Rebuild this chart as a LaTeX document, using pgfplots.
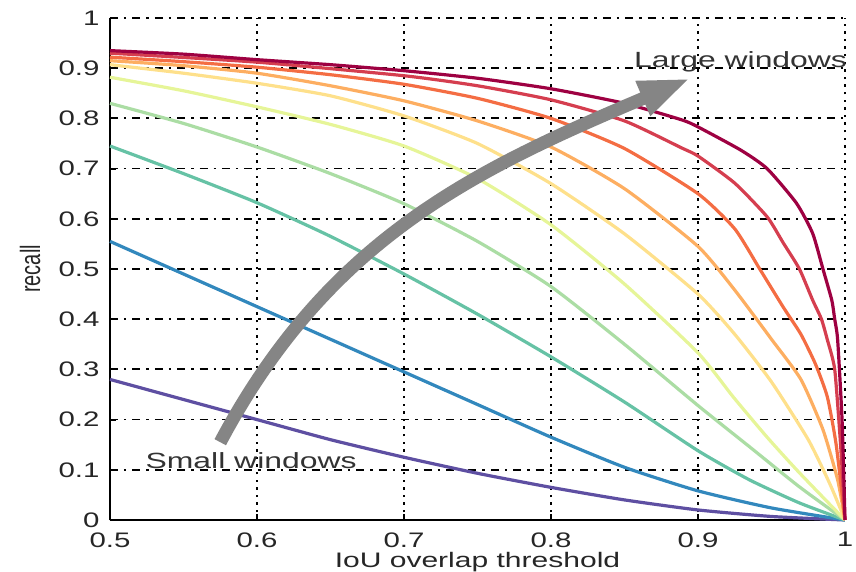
\documentclass[border=0pt]{standalone}
\usepackage{fontspec}
\setmainfont{Liberation Sans}
\usepackage{pgfplots}
\pgfplotsset{compat=1.18}
\usetikzlibrary{arrows.meta}
\definecolor{s1}{HTML}{5E4FA2}
\definecolor{s2}{HTML}{3288BD}
\definecolor{s3}{HTML}{66C2A5}
\definecolor{s4}{HTML}{ABDDA4}
\definecolor{s5}{HTML}{E6F598}
\definecolor{s6}{HTML}{FEE08B}
\definecolor{s7}{HTML}{FDAE61}
\definecolor{s8}{HTML}{F46D43}
\definecolor{s9}{HTML}{D53E4F}
\definecolor{s10}{HTML}{9E0142}
\begin{document}
\begin{tikzpicture}
\begin{axis}[
  scale only axis, width=367.5bp, height=251bp,
  xmin=0.5, xmax=1, ymin=0, ymax=1,
  clip=false,
  axis x line*=bottom, axis y line*=left,
  axis line style={-, line width=1.2bp, black},
  xtick={0.5,0.6,0.7,0.8,0.9,1},
  xticklabels={0.5,0.6,0.7,0.8,0.9,1},
  ytick={0,0.1,0.2,0.3,0.4,0.5,0.6,0.7,0.8,0.9,1},
  yticklabels={0,0.1,0.2,0.3,0.4,0.5,0.6,0.7,0.8,0.9,1},
  grid=major,
  x grid style={black, line width=0.9bp, dash pattern=on 1.2bp off 2.6bp},
  y grid style={black, line width=0.9bp, dash pattern=on 4bp off 3bp on 1.2bp off 3bp},
  tick align=inside, major tick length=3bp,
  tick style={black, line width=1bp},
  xticklabel style={font=\fontsize{10.5bp}{12bp}\selectfont, text=black!85, inner sep=0pt, anchor=north, yshift=-6bp, xscale=1.4},
  yticklabel style={font=\fontsize{10.5bp}{12bp}\selectfont, text=black!85, inner sep=0pt, anchor=east, xshift=-5bp, xscale=1.4},
  xlabel={IoU overlap threshold},
  ylabel={recall},
  xlabel style={font=\fontsize{10.5bp}{12bp}\selectfont, text=black!85, inner sep=0pt, at={(axis description cs:0.5,0)}, anchor=center, yshift=-21bp, xscale=1.43},
  ylabel style={font=\fontsize{10bp}{12bp}\selectfont, text=black!85, inner sep=0pt, at={(axis description cs:-0.1088,0.5)}, anchor=center, yscale=1.4},
  every axis plot/.append style={line width=1.6bp, no markers, smooth, tension=0.35},
]
\addplot[s1] coordinates {(0.5,0.28)(0.55,0.24)(0.6,0.20)(0.65,0.16)(0.7,0.125)(0.75,0.093)(0.8,0.065)(0.85,0.04)(0.9,0.02)(0.95,0.007)(1,0)};
\addplot[s2] coordinates {(0.5,0.555)(0.55,0.49)(0.6,0.425)(0.65,0.36)(0.7,0.295)(0.75,0.23)(0.8,0.165)(0.85,0.105)(0.9,0.058)(0.95,0.024)(1,0)};
\addplot[s3] coordinates {(0.5,0.745)(0.55,0.69)(0.6,0.632)(0.65,0.565)(0.7,0.49)(0.75,0.41)(0.8,0.325)(0.85,0.235)(0.9,0.138)(0.935,0.08)(0.969,0.034)(1,0)};
\addplot[s4] coordinates {(0.5,0.83)(0.55,0.79)(0.6,0.743)(0.65,0.69)(0.7,0.63)(0.75,0.555)(0.8,0.465)(0.85,0.35)(0.9,0.228)(0.935,0.146)(0.969,0.066)(1,0)};
\addplot[s5] coordinates {(0.5,0.882)(0.55,0.855)(0.6,0.823)(0.65,0.788)(0.7,0.745)(0.75,0.68)(0.8,0.588)(0.85,0.47)(0.9,0.333)(0.924,0.245)(0.947,0.165)(0.969,0.094)(1,0)};
\addplot[s6] coordinates {(0.5,0.907)(0.55,0.89)(0.6,0.87)(0.65,0.845)(0.7,0.805)(0.75,0.75)(0.8,0.67)(0.85,0.57)(0.9,0.45)(0.925,0.37)(0.95,0.275)(0.975,0.16)(0.99,0.07)(1,0)};
\addplot[s7] coordinates {(0.5,0.915)(0.55,0.905)(0.6,0.89)(0.65,0.865)(0.7,0.835)(0.75,0.795)(0.8,0.743)(0.85,0.66)(0.9,0.545)(0.925,0.458)(0.95,0.36)(0.97,0.28)(0.985,0.18)(0.995,0.08)(1,0)};
\addplot[s8] coordinates {(0.5,0.922)(0.55,0.913)(0.6,0.902)(0.65,0.887)(0.7,0.868)(0.75,0.84)(0.8,0.80)(0.85,0.74)(0.9,0.65)(0.925,0.58)(0.942,0.50)(0.958,0.424)(0.97,0.37)(0.98,0.31)(0.988,0.245)(0.994,0.15)(1,0)};
\addplot[s9] coordinates {(0.5,0.93)(0.6,0.912)(0.7,0.885)(0.75,0.865)(0.8,0.837)(0.85,0.795)(0.889,0.741)(0.9,0.725)(0.925,0.671)(0.947,0.604)(0.958,0.552)(0.969,0.50)(0.978,0.438)(0.984,0.40)(0.988,0.359)(0.993,0.30)(0.997,0.15)(1,0)};
\addplot[s10] coordinates {(0.5,0.935)(0.55,0.928)(0.6,0.917)(0.65,0.907)(0.7,0.895)(0.75,0.88)(0.8,0.859)(0.85,0.83)(0.889,0.797)(0.9,0.783)(0.929,0.737)(0.947,0.70)(0.967,0.631)(0.978,0.571)(0.985,0.5)(0.991,0.438)(0.993,0.4)(0.995,0.359)(0.998,0.2)(1,0)};
\draw[line width=6.5bp, color=black!48, -{Triangle[length=26bp, width=17bp]}]
  (axis cs:0.575,0.155) to[out=62, in=203] (axis cs:0.895,0.88);
\node[inner sep=0pt, font=\fontsize{11bp}{13bp}\selectfont, text=black!80, xscale=1.45] at (axis cs:0.596,0.1175) {Small windows};
\node[inner sep=0pt, font=\fontsize{11bp}{13bp}\selectfont, text=black!80, xscale=1.45] at (axis cs:0.929,0.912) {Large windows};
\path (rel axis cs:0,0) ++(-55bp,-26bp);
\path (rel axis cs:1,1) ++(5.5bp,9bp);
\end{axis}
\end{tikzpicture}
\end{document}
